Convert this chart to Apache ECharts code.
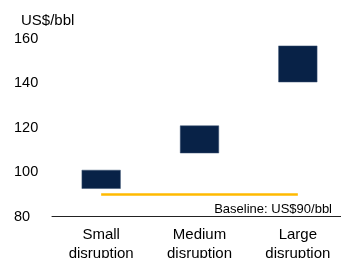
<!DOCTYPE html>
<html>
<head>
<meta charset="utf-8">
<script src="https://cdn.jsdelivr.net/npm/echarts@6/dist/echarts.min.js"></script>
<style>
  html, body { margin: 0; padding: 0; background: #fff; }
  #chart { width: 341px; height: 258px; }
</style>
</head>
<body>
<div id="chart"></div>
<script>
var categories = ['Small\ndisruption', 'Medium\ndisruption', 'Large\ndisruption'];
var lows = [92.5, 108.5, 140.5];
var highs = [101, 121, 157];
var baseline = 90;
var yTicks = [80, 100, 120, 140, 160];

var chart = echarts.init(document.getElementById('chart'));
var font = 'Liberation Sans, Arial, sans-serif';

var option = {
  animation: false,
  backgroundColor: '#fff',
  textStyle: { fontFamily: font },
  title: [
    {
      text: 'US$/bbl',
      left: 16, top: 8,
      textStyle: { fontSize: 15, fontWeight: 'normal', color: '#000', fontFamily: font }
    },
    {
      text: 'Baseline: US$' + baseline + '/bbl',
      right: 4, top: 198,
      textStyle: { fontSize: 13, fontWeight: 'normal', color: '#000', fontFamily: font }
    }
  ],
  grid: { left: 52, right: -6, top: 39, bottom: 41.5, containLabel: false, outerBoundsMode: 'none' },
  xAxis: {
    type: 'category',
    data: categories,
    axisLine: { lineStyle: { color: '#222', width: 1 } },
    axisTick: { show: false },
    axisLabel: { color: '#000', fontSize: 15, lineHeight: 19, margin: 9, interval: 0, fontFamily: font }
  },
  yAxis: {
    type: 'value',
    min: yTicks[0],
    max: yTicks[yTicks.length - 1],
    interval: 20,
    axisLine: { show: false },
    axisTick: { show: false },
    splitLine: { show: false },
    axisLabel: { color: '#000', fontSize: 14.5, align: 'left', margin: 38, fontFamily: font }
  },
  series: [
    {
      type: 'bar',
      stack: 'range',
      barWidth: 39,
      silent: true,
      itemStyle: { color: 'rgba(0,0,0,0)' },
      data: lows,
      markLine: {
        symbol: 'none',
        silent: true,
        label: { show: false },
        lineStyle: { color: '#FFBA00', width: 2.5, type: 'solid' },
        data: [[{ coord: [0, baseline] }, { coord: [2, baseline] }]]
      }
    },
    {
      type: 'bar',
      stack: 'range',
      barWidth: 39,
      itemStyle: { color: '#082247', borderColor: '#3a5272', borderWidth: 0.5 },
      data: highs.map(function (h, i) { return h - lows[i]; })
    }
  ]
};
chart.setOption(option);
</script>
</body>
</html>
